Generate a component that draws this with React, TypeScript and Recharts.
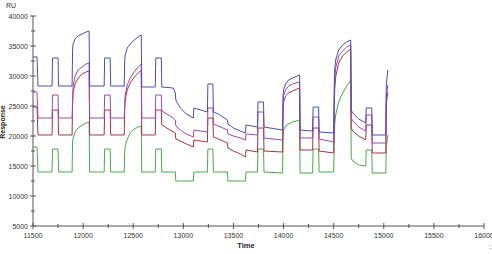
import { LineChart, Line, XAxis, YAxis } from 'recharts'

// sensorgram, time (s) vs response (RU)
const time = [
  11500, 11540, 11550, 11690, 11695, 11750, 11755, 11890, 11895, 11900,
  11920, 11950, 11990, 12030, 12060, 12065, 12210, 12215, 12270, 12275,
  12410, 12415, 12420, 12440, 12470, 12510, 12550, 12580, 12585, 12720,
  12725, 12780, 12785, 12900, 12920, 12925, 12970, 13030, 13100, 13105,
  13240, 13245, 13295, 13300, 13350, 13440, 13445, 13500, 13570, 13620,
  13625, 13740, 13745, 13800, 13805, 13990, 13995, 14000, 14020, 14050,
  14090, 14160, 14165, 14290, 14295, 14350, 14355, 14500, 14505, 14510,
  14520, 14550, 14590, 14630, 14670, 14675, 14690, 14750, 14820, 14825,
  14880, 14885, 15020, 15025, 15040,
]

const curve1 = [
  33170, 33170, 28330, 28330, 33000, 33000, 28330, 28330, 34330, 35330,
  36170, 36670, 37000, 37330, 37500, 28330, 28330, 33000, 33000, 28330,
  28330, 32670, 33500, 34670, 35330, 36000, 36500, 36830, 28170, 28170,
  33000, 33000, 28170, 28000, 27170, 26000, 24670, 23670, 23000, 24670,
  24000, 28670, 28670, 24000, 23670, 22670, 22000, 21330, 20830, 20500,
  21830, 21500, 25670, 25670, 21500, 21000, 26830, 27670, 28670, 29330,
  29670, 30170, 21000, 20830, 24830, 24830, 20670, 20500, 27670, 31000,
  32670, 34330, 35170, 35670, 36000, 24330, 23830, 22830, 22170, 24670,
  24670, 20170, 20170, 28500, 31000,
]

const curve2 = [
  27330, 27330, 23000, 23000, 26830, 26830, 23000, 23000, 26000, 28330,
  30000, 31000, 31500, 32000, 32170, 23000, 23000, 26830, 26830, 23000,
  23000, 25170, 26830, 28500, 29670, 30670, 31500, 32000, 23000, 23000,
  26830, 26830, 24170, 23000, 22670, 21670, 21000, 20330, 19830, 21000,
  20670, 24670, 24670, 22000, 21670, 21000, 20330, 20000, 19670, 19330,
  20330, 20170, 24000, 24000, 19670, 19330, 25170, 26670, 27670, 28330,
  28670, 29000, 19670, 19670, 23170, 23170, 19500, 19000, 24330, 29330,
  31330, 33330, 34170, 34830, 35170, 23000, 22500, 21500, 20830, 23500,
  23500, 18830, 18830, 26330, 28500,
]

const curve3 = [
  24830, 24830, 20170, 20170, 24330, 24330, 20170, 20170, 25170, 27330,
  28670, 29670, 30330, 30670, 30830, 20170, 20170, 24330, 24330, 20170,
  20170, 24330, 26000, 27670, 28830, 29830, 30500, 31000, 20170, 20170,
  24330, 24330, 21830, 20670, 20500, 19500, 19170, 18670, 18170, 19330,
  19000, 23000, 23000, 19830, 19500, 18830, 18000, 17500, 17000, 16500,
  17670, 17330, 21330, 21330, 17500, 17330, 24000, 25670, 26670, 27170,
  27500, 28000, 17670, 17670, 21330, 21330, 17500, 17170, 22670, 27670,
  29830, 32170, 33330, 34000, 34500, 21330, 20830, 20000, 19330, 21830,
  21830, 17170, 17170, 25330, 27330,
]

const curve4 = [
  18170, 18170, 14000, 14000, 17830, 17830, 14000, 14000, 19000, 19670,
  20670, 21330, 21830, 22170, 22330, 14000, 14000, 17830, 17830, 14000,
  14000, 17330, 18330, 19500, 20500, 21170, 21500, 21670, 14000, 14000,
  17830, 17830, 14000, 14000, 14000, 12500, 12500, 12500, 12500, 14000,
  14000, 17830, 17830, 14000, 14000, 14000, 12500, 12500, 12500, 12500,
  14000, 14000, 17830, 17830, 14000, 13830, 19330, 21000, 21670, 22000,
  22330, 22670, 13830, 13830, 17830, 17830, 14000, 14000, 17670, 21830,
  23500, 25670, 27170, 28330, 29330, 16330, 15830, 15170, 15000, 17670,
  17670, 13830, 13830, 18000, 20170,
]

const xTicks = [11500, 11750, 12000, 12250, 12500, 12750, 13000, 13250, 13500, 13750, 14000,
  14250, 14500, 14750, 15000, 15250, 15500, 15750, 16000]
const yTicks = [5000, 7500, 10000, 12500, 15000, 17500, 20000, 22500, 25000, 27500, 30000,
  32500, 35000, 37500, 40000]

const data = time.map((t, i) => ({
  t,
  c1: curve1[i],
  c2: curve2[i],
  c3: curve3[i],
  c4: curve4[i],
}))

const FONT = '"Liberation Sans", Arial, sans-serif'
const AXIS = '#555'

const XTick = (props: any) => {
  const { x, y, payload } = props
  const major = payload.value % 500 === 0
  return (
    <g>
      <line x1={x} x2={x} y1={y - (major ? 3 : 2)} y2={y + (major ? 3 : 2)} stroke={AXIS} />
      {major && (
        <text x={x} y={y + 12} textAnchor="middle" fontSize={7} fill="#333" fontFamily={FONT}>
          {payload.value}
        </text>
      )}
    </g>
  )
}

const YTick = (props: any) => {
  const { x, y, payload } = props
  const major = payload.value % 5000 === 0
  return (
    <g>
      <line x1={x - (major ? 3 : 2)} x2={x + (major ? 3 : 2)} y1={y} y2={y} stroke={AXIS} />
      {major && (
        <text x={x - 5} y={y + 2.5} textAnchor="end" fontSize={7} fill="#333" fontFamily={FONT}>
          {payload.value}
        </text>
      )}
    </g>
  )
}

export default function App() {
  return (
    <div style={{ position: 'absolute', left: 0, top: 0, width: 492, height: 254, background: '#fff' }}>
      <LineChart width={492} height={254} data={data} margin={{ top: 16, right: 8, left: 0, bottom: 0 }}>
        <XAxis
          dataKey="t"
          type="number"
          domain={[11500, 16000]}
          ticks={xTicks}
          interval={0}
          height={28}
          tickSize={0}
          tickMargin={0}
          tickLine={false}
          axisLine={{ stroke: AXIS }}
          tick={<XTick />}
        />
        <YAxis
          type="number"
          domain={[5000, 40000]}
          ticks={yTicks}
          interval={0}
          width={33}
          tickSize={0}
          tickMargin={0}
          tickLine={false}
          axisLine={{ stroke: AXIS }}
          tick={<YTick />}
        />
        <Line dataKey="c4" stroke="#4aa84a" strokeWidth={1} dot={false} type="linear" isAnimationActive={false} />
        <Line dataKey="c3" stroke="#a83444" strokeWidth={1} dot={false} type="linear" isAnimationActive={false} />
        <Line dataKey="c2" stroke="#a048a8" strokeWidth={1} dot={false} type="linear" isAnimationActive={false} />
        <Line dataKey="c1" stroke="#4c4cb4" strokeWidth={1} dot={false} type="linear" isAnimationActive={false} />
        <text x={6} y={8} fontSize={7} fill="#333" fontFamily={FONT}>RU</text>
        <text
          x={5}
          y={122}
          fontSize={7}
          fontWeight="bold"
          fill="#222"
          fontFamily={FONT}
          textAnchor="middle"
          transform="rotate(-90 5 122)"
        >
          Response
        </text>
        <text x={246} y={248} fontSize={7.5} fontWeight="bold" fill="#222" fontFamily={FONT} textAnchor="middle">
          Time
        </text>
        <text x={489} y={249} fontSize={7} fill="#333" fontFamily={FONT}>:</text>
      </LineChart>
    </div>
  )
}
